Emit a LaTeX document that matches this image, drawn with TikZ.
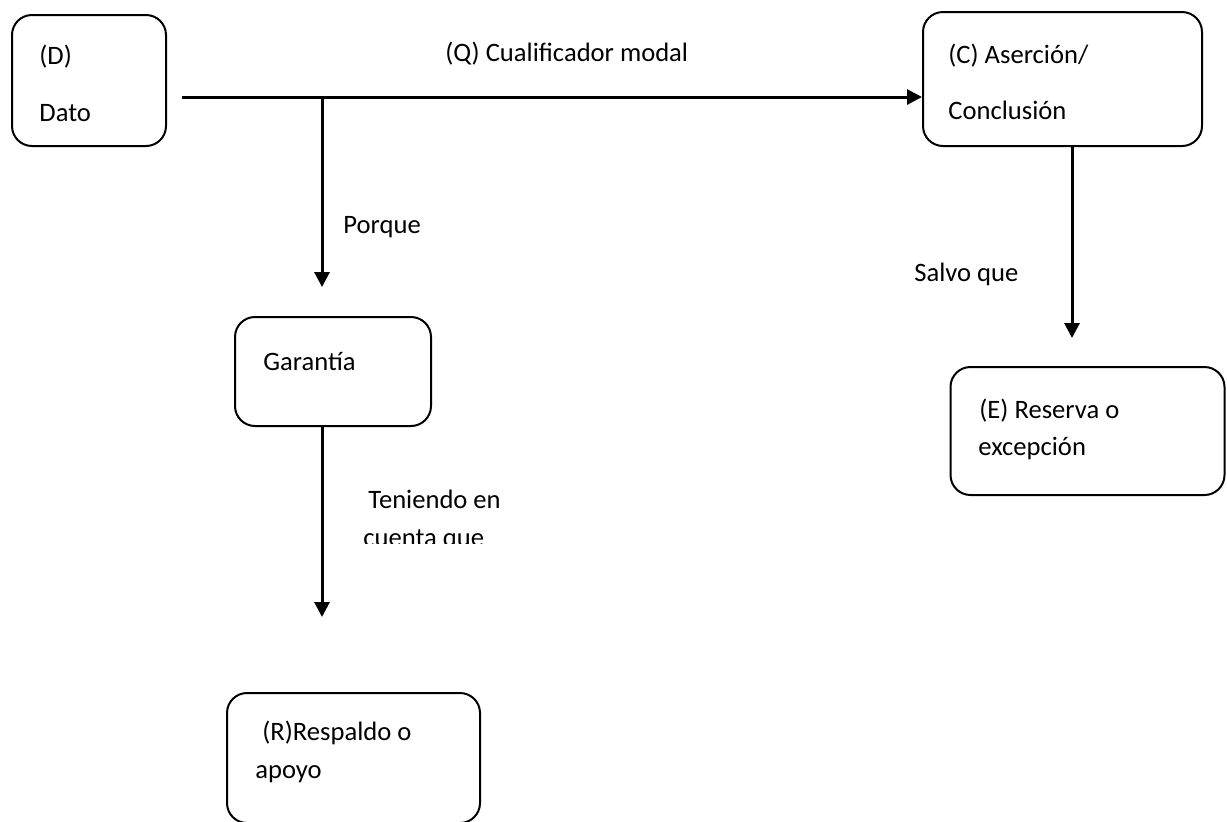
\documentclass[tikz,border=0pt]{standalone}
\usepackage{fontspec}
\setmainfont{Carlito}
\usetikzlibrary{arrows.meta}
\begin{document}
\begin{tikzpicture}[x=0.5pt,y=-0.5pt,
  box/.style={draw=black,line width=1pt,rounded corners=10pt,inner sep=0pt},
  lbl/.style={anchor=base west,inner sep=0pt,font=\fontsize{13.3pt}{16pt}\selectfont},
  conn/.style={line width=1.5pt,-{Triangle[length=7.5pt,width=7.5pt]}},
  plain/.style={line width=1.5pt}]
\useasboundingbox (0,0) rectangle (1227,821);
% boxes
\node[box,minimum width=77pt,minimum height=65.5pt] (D) at (89,80.5) {};
\node[box,minimum width=139.5pt,minimum height=67pt] (C) at (1062.5,79) {};
\node[box,minimum width=98pt,minimum height=54.5pt] (G) at (333,371.5) {};
\node[box,minimum width=137pt,minimum height=64pt] (E) at (1087.5,431) {};
\node[box,minimum width=126.5pt,minimum height=65pt] (R) at (353.5,758) {};
% texts
\node[lbl] (tD1) at (39,64) {(D)};
\node[lbl] (tD2) at (39,121) {Dato};
\node[lbl] (tQ) at (445,61) {(Q) Cualificador modal};
\node[lbl] (tC1) at (948,63) {(C) Aserción/};
\node[lbl] (tC2) at (948,119) {Conclusión};
\node[lbl] (tP) at (343,233) {Porque};
\node[lbl] (tG) at (263,370) {Garantía};
\node[lbl] (tS) at (914,281) {Salvo que};
\node[lbl] (tE1) at (979,418) {(E) Reserva o};
\node[lbl] (tE2) at (978,455) {excepción};
\node[lbl] (tT1) at (368,508) {Teniendo en};
\begin{scope}
\clip (340,515) rectangle (540,543);
\node[lbl] (tT2) at (363,546) {cuenta que};
\end{scope}
\node[lbl] (tR1) at (262,740) {(R)Respaldo o};
\node[lbl] (tR2) at (255,778) {apoyo};
% connectors
\coordinate (s) at (182,97);
\coordinate (j) at (322,97);
\coordinate (jt) at (322,287);
\coordinate (ct) at (1072,338);
\coordinate (gt) at (322,617);
\draw[conn] (s) -- (s -| C.west);
\draw[conn] (j) -- (jt);
\draw[conn] (C.south -| ct) -- (ct);
\draw[conn] (G.south -| gt) -- (gt);
\end{tikzpicture}
\end{document}
